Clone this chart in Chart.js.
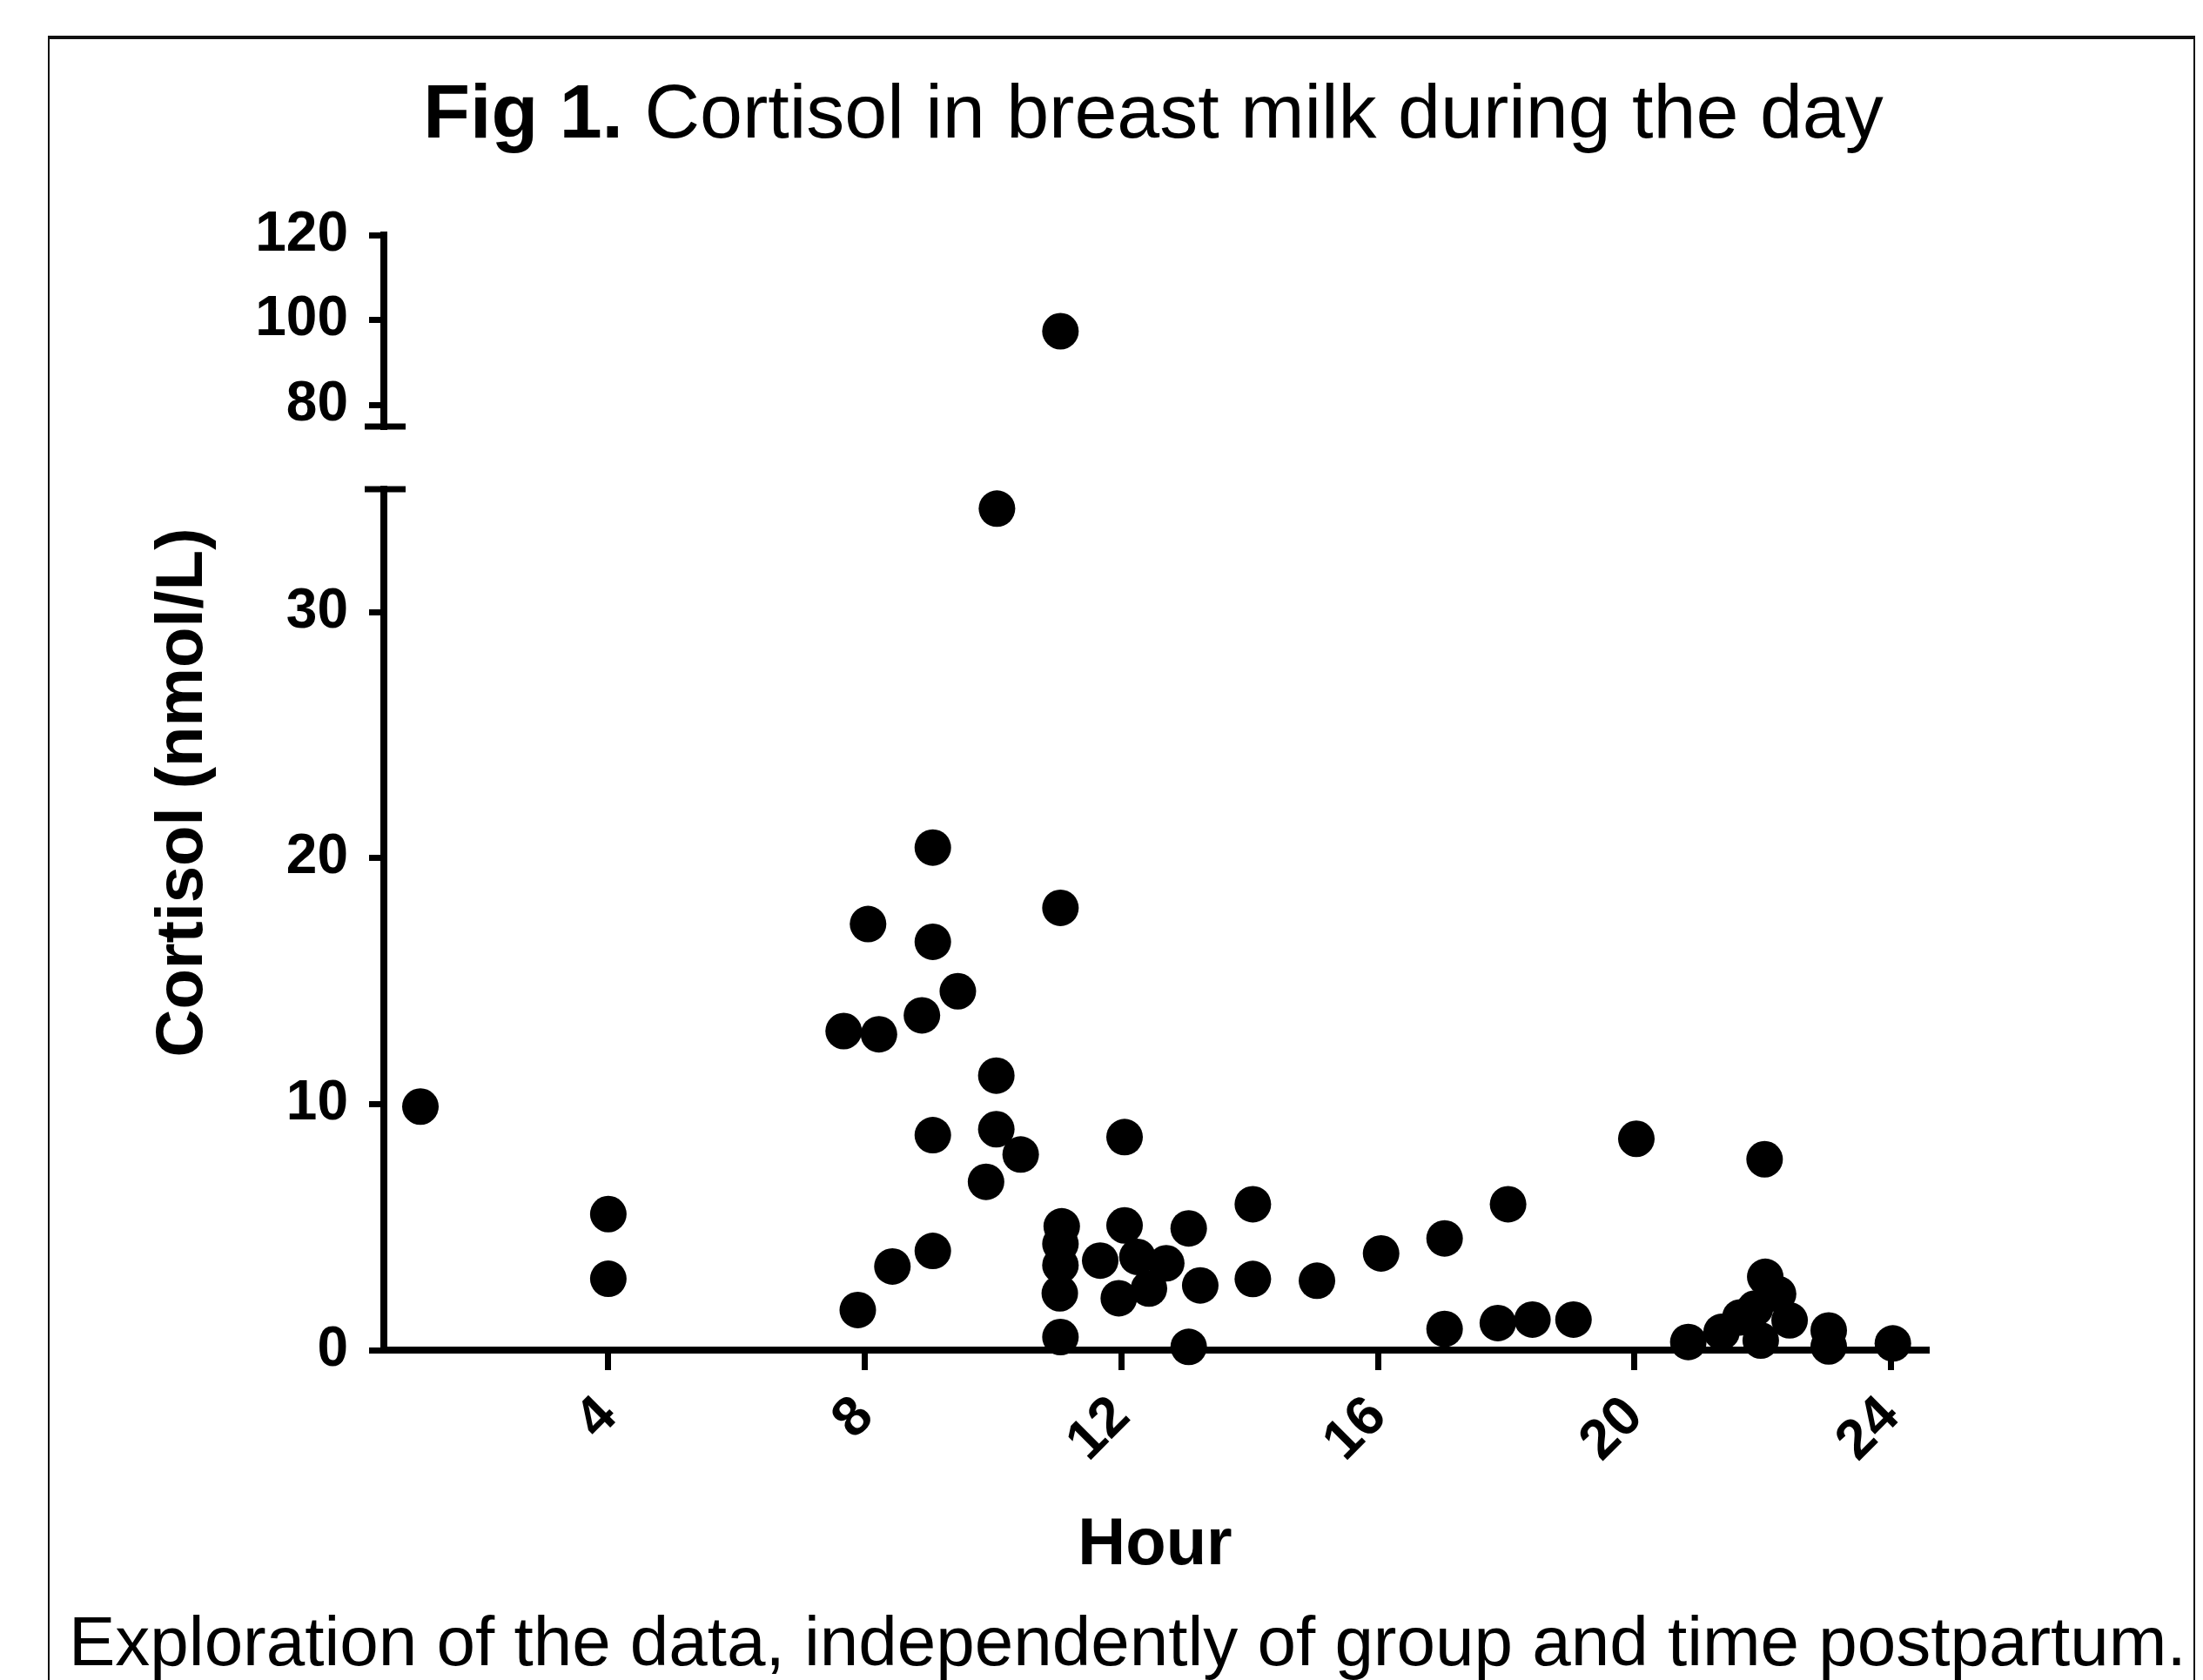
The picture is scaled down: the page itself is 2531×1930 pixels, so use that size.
<!DOCTYPE html>
<html>
<head>
<meta charset="utf-8">
<title>Fig 1. Cortisol in breast milk during the day</title>
<script src="https://cdn.jsdelivr.net/npm/chart.js@4.4.1/dist/chart.umd.min.js"></script>
<style>
  html, body { margin: 0; padding: 0; background: #fff; }
  #page { position: relative; width: 2531px; height: 1930px; overflow: hidden; font-family: "Liberation Sans", Arial, sans-serif; color: #000; }
  #frame { position: absolute; left: 55px; top: 41px; width: 2463px; height: 1900px; border-top: 4px solid #111; border-left: 2px solid #111; border-right: 2px solid #111; }
  #title { position: absolute; left: 0; top: 84px; width: 2650px; text-align: center; font-size: 88px; line-height: 1; white-space: nowrap; }
  #caption { position: absolute; left: 79px; top: 1846px; font-size: 80px; line-height: 1; white-space: nowrap; }
  canvas { position: absolute; left: 0; top: 0; }
</style>
</head>
<body>
<div id="page">
  <div id="frame"></div>
  <canvas id="chart" width="2531" height="1930"></canvas>
  <div id="title"><b>Fig 1.</b> Cortisol in breast milk during the day</div>
  <div id="caption">Exploration of the data, independently of group and time postpartum.</div>
</div>
<script>
// sampling hour and cortisol (nmol/L), one entry per milk sample
const hours = [
  1.07, 4.0, 4.0, 7.67, 8.05, 8.22, 7.89, 8.43, 8.89, 9.06,
  9.06, 9.45, 9.06, 9.06, 10.06, 11.05, 10.05, 10.05, 10.43, 9.89,
  11.05, 11.07, 11.05, 11.05, 11.04, 11.05, 12.05, 12.05, 11.67, 12.25,
  12.7, 12.43, 11.96, 13.05, 13.23, 13.05, 14.05, 14.05, 15.05, 16.05,
  17.04, 17.04, 17.87, 18.41, 19.05, 18.03, 20.03, 22.03, 20.84, 22.04,
  22.24, 22.42, 21.36, 21.65, 21.88, 21.97, 23.03, 23.03, 24.03
];
const cortisol = [
  9.9, 5.53, 2.9, 12.97, 17.32, 12.84, 1.63, 3.4, 13.61, 20.43,
  16.6, 14.59, 8.74, 4.03, 34.21, 97.4, 11.16, 8.98, 7.95, 6.84,
  17.98, 5.03, 4.32, 3.45, 2.31, 0.53, 8.66, 5.07, 3.64, 3.79,
  3.53, 2.5, 2.11, 4.95, 2.63, 0.13, 5.93, 2.89, 2.82, 3.93,
  4.54, 0.86, 1.1, 1.24, 1.24, 5.93, 8.59, 7.76, 0.33, 2.98,
  2.28, 1.21, 0.74, 1.33, 1.69, 0.39, 0.8, 0.15, 0.27
];
const xTicks = [4, 8, 12, 16, 20, 24];
const lowTicks = [0, 10, 20, 30];
const highTicks = [80, 100, 120];
const lowRange = [0, 35];
const highRange = [75, 120];

// split the points over the two parts of the broken axis
const lowPoints = [];
const highPoints = [];
hours.forEach((h, i) => {
  const p = { x: h, y: cortisol[i] };
  if (cortisol[i] > lowRange[1]) highPoints.push(p); else lowPoints.push(p);
});

const FONT = '"Liberation Sans", Arial, sans-serif';
const tickFont = { family: FONT, size: 64, weight: 'bold' };
const titleFont = { family: FONT, size: 76, weight: 'bold' };
const axisLine = { display: true, color: '#000', width: 8 };
const tickMarks = { drawOnChartArea: false, color: '#000', lineWidth: 7, tickLength: 17 };

function fixedTicks(list) {
  return axis => { axis.ticks = list.map(v => ({ value: v })); };
}
function fixedWidth(w) {
  return axis => { axis.width = w; };
}

// short caps where the y axis is broken
const axisBreak = {
  id: 'axisBreak',
  afterDraw(chart) {
    const ctx = chart.ctx;
    const hi = chart.scales.yHigh;
    const lo = chart.scales.yLow;
    const x = lo.right;
    ctx.save();
    ctx.strokeStyle = '#000';
    ctx.lineWidth = 7;
    ctx.beginPath();
    ctx.moveTo(x - 22, hi.bottom);
    ctx.lineTo(x + 25, hi.bottom);
    ctx.moveTo(x - 22, lo.top);
    ctx.lineTo(x + 25, lo.top);
    ctx.stroke();
    ctx.restore();
  }
};

const pointStyle = {
  showLine: false,
  pointRadius: 21,
  pointHoverRadius: 21,
  pointBackgroundColor: '#000',
  pointBorderWidth: 0,
  clip: false
};

new Chart(document.getElementById('chart'), {
  type: 'scatter',
  data: {
    datasets: [
      Object.assign({ label: 'low', data: lowPoints, xAxisID: 'x', yAxisID: 'yLow' }, pointStyle),
      Object.assign({ label: 'high', data: highPoints, xAxisID: 'x', yAxisID: 'yHigh' }, pointStyle)
    ]
  },
  options: {
    responsive: false,
    animation: false,
    devicePixelRatio: 1,
    layout: { padding: { left: 165, top: 270, right: 318, bottom: 108 } },
    plugins: { legend: { display: false }, tooltip: { enabled: false } },
    scales: {
      x: {
        type: 'linear',
        position: 'bottom',
        min: 0.5,
        max: 24.55,
        afterBuildTicks: fixedTicks(xTicks),
        afterFit: axis => { axis.height = 271; },
        grid: Object.assign({}, tickMarks, { tickLength: 23 }),
        border: axisLine,
        ticks: { font: tickFont, color: '#000', padding: 16, minRotation: 45, maxRotation: 45, autoSkip: false },
        title: { display: true, text: 'Hour', font: titleFont, color: '#000', padding: 0 }
      },
      yTitle: {
        type: 'linear',
        position: 'left',
        weight: 10,
        afterFit: fixedWidth(76),
        grid: { display: false },
        border: { display: false },
        ticks: { display: false },
        title: { display: true, text: 'Cortisol (nmol/L)', font: titleFont, color: '#000', padding: 0 }
      },
      yHigh: {
        type: 'linear',
        position: 'left',
        stack: 'cortisol',
        stackWeight: 220,
        weight: 3,
        min: highRange[0],
        max: highRange[1],
        afterBuildTicks: fixedTicks(highTicks),
        afterFit: fixedWidth(200),
        grid: tickMarks,
        border: axisLine,
        ticks: { font: tickFont, color: '#000', padding: 24, autoSkip: false }
      },
      yGap: {
        type: 'linear',
        position: 'left',
        stack: 'cortisol',
        stackWeight: 72,
        weight: 2,
        afterFit: fixedWidth(200),
        grid: { display: false },
        border: { display: false },
        ticks: { display: false }
      },
      yLow: {
        type: 'linear',
        position: 'left',
        stack: 'cortisol',
        stackWeight: 989,
        weight: 1,
        min: lowRange[0],
        max: lowRange[1],
        afterBuildTicks: fixedTicks(lowTicks),
        afterFit: fixedWidth(200),
        grid: tickMarks,
        border: axisLine,
        ticks: { font: tickFont, color: '#000', padding: 24, autoSkip: false }
      }
    }
  },
  plugins: [axisBreak]
});
</script>
</body>
</html>
